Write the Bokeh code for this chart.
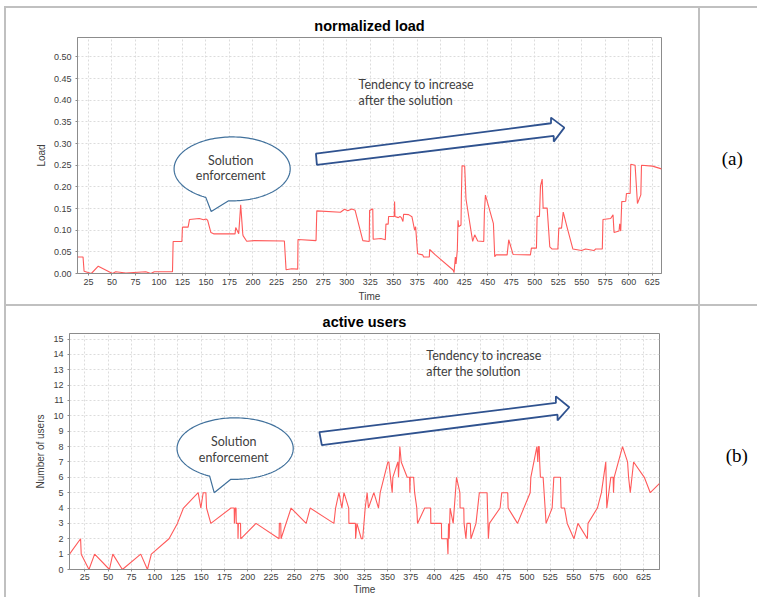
import numpy as np
from bokeh.plotting import figure
from bokeh.models import Range1d, FixedTicker, NumeralTickFormatter, Label, Spacer
from bokeh.layouts import column, row
from bokeh.embed import file_html
from bokeh.resources import INLINE

# ---------------- data ----------------
time_ticks = [25, 50, 75, 100, 125, 150, 175, 200, 225, 250, 275, 300, 325,
              350, 375, 400, 425, 450, 475, 500, 525, 550, 575, 600, 625]
load_ticks = [0.0, 0.05, 0.10, 0.15, 0.20, 0.25, 0.30, 0.35, 0.40, 0.45, 0.50]
user_ticks = [0, 1, 2, 3, 4, 5, 6, 7, 8, 9, 10, 11, 12, 13, 14, 15]

load_time = [13.3, 19.2, 20.3, 28, 35.4, 50.5, 54, 64.8, 86, 91.4, 95, 114.4, 115.1,
             124.4, 125, 131, 132.5, 142.9, 147.5, 150, 151.8, 155.3, 158.2, 181, 181.7,
             184.9, 187, 189.2, 189.5, 193.4, 201.5, 233.5, 235.3, 241.3, 247.7, 248,
             267.2, 268, 293.2, 297.5, 301, 305.3, 308.8, 317, 323.8, 324.2, 325.0,
             326.8, 327.6, 328.0, 336.3, 340.9, 341.6, 344, 344.4, 350.4, 350.8, 351.2,
             354.8, 356.5, 358, 359.7, 360.4, 365.7, 369.3, 372.1, 373.2, 375.3, 380.7,
             381.7, 387.8, 388.1, 394.2, 413, 414.1, 415.5, 416.2, 417.6, 418.3, 419,
             421.5, 421.9, 422.6, 425.4, 426.8, 433.9, 436.1, 439.3, 445.7, 446.4, 447.5,
             456, 457.4, 458.8, 470.6, 472.3, 476.9, 495.4, 496.4, 501.8, 502.5, 505,
             506.1, 507.9, 508.9, 513.2, 516, 518.5, 524.6, 525.6, 528.5, 530.3, 534.5,
             540.6, 549.8, 554.1, 563, 564.8, 571.9, 572.6, 580.8, 583.3, 584.4, 589.7,
             590.4, 591.5, 592.6, 596.8, 597.6, 601.5, 602.2, 606.8, 609.3, 612.9, 613.6,
             625.3, 634.9]
load_value = [0.038, 0.038, 0.005, 0.0, 0.017, 0.0, 0.004, 0.001, 0.004, 0.0, 0.004, 0.004, 0.074,
              0.074, 0.107, 0.107, 0.1246, 0.127, 0.124, 0.126, 0.123, 0.0946, 0.0916, 0.0916, 0.106,
              0.092, 0.1585, 0.092, 0.0875, 0.0746, 0.076, 0.075, 0.0085, 0.0108, 0.010, 0.0785,
              0.076, 0.1447, 0.1415, 0.1485, 0.1447, 0.149, 0.146, 0.076, 0.074, 0.146, 0.146,
              0.149, 0.149, 0.079, 0.081, 0.078, 0.114, 0.114, 0.1316, 0.1316, 0.166, 0.1316,
              0.129, 0.132, 0.129, 0.12, 0.137, 0.136, 0.131, 0.100, 0.108, 0.0455, 0.043,
              0.038, 0.038, 0.0554, 0.043, 0.008, 0.002, 0.038, 0.022, 0.055, 0.123, 0.108,
              0.112, 0.179, 0.249, 0.248, 0.172, 0.074, 0.0893, 0.075, 0.074, 0.142, 0.181,
              0.115, 0.039, 0.043, 0.043, 0.078, 0.044, 0.043, 0.0586, 0.0586, 0.132, 0.132,
              0.202, 0.218, 0.151, 0.151, 0.0616, 0.0565, 0.0565, 0.1047, 0.1047, 0.142, 0.106,
              0.0565, 0.053, 0.0565, 0.053, 0.0565, 0.0565, 0.1246, 0.127, 0.1354, 0.0946, 0.098,
              0.115, 0.098, 0.166, 0.167, 0.1846, 0.1846, 0.2524, 0.250, 0.1615, 0.1815, 0.25,
              0.248, 0.2416]

users_time = [8.5, 20.4, 21.1, 29.4, 35.5, 51.4, 55, 65.3, 85, 92.2, 96.4, 115.4, 124.4,
              130.9, 146.7, 149.6, 152.1, 155, 155.7, 160.3, 181.9, 185.4, 185.6, 186.4,
              187.4, 187.6, 189.3, 189.5, 189.9, 192.2, 192.4, 208.8, 233.6, 233.9, 235.4,
              235.7, 246.5, 262.7, 267, 292.5, 294.3, 297.9, 301.1, 303.3, 308.4, 308.6,
              315.6, 315.8, 317.2, 321.9, 323.4, 326.1, 328.2, 329.6, 335.4, 340.4, 342.2,
              350.5, 351.5, 355.1, 355.8, 361.2, 361.9, 363.3, 364.8, 371.2, 373.8, 374.1,
              374.5, 378.1, 379.2, 381.5, 382.3, 390, 396.4, 396.6, 408, 408.2, 414.2, 415,
              415.6, 416.3, 417.3, 420.6, 424.2, 427.8, 428, 432, 432.3, 434.3, 435.4, 439,
              439.7, 445.1, 448.7, 457, 458.4, 459.5, 471, 472.8, 479.2, 479.6, 489.7, 503.3,
              504, 510.5, 511.5, 512.2, 513, 513.5, 514.3, 517.2, 520.4, 526.9, 528.7, 535.9,
              536.6, 540.2, 543.1, 550.3, 554.6, 564.7, 565.4, 575.5, 579.8, 584.5, 585.6,
              589.9, 592.4, 592.8, 593.5, 602.5, 607.9, 609, 610.8, 614.4, 625.9, 632.3, 642.3]
users_count = [1, 2, 1, 0, 1, 0, 1, 0, 1, 0, 1, 2, 3,
               4, 5, 4, 5, 5, 4, 3, 4, 4, 3, 4,
               4, 3, 3, 2, 3, 3, 2, 3, 2, 3, 3,
               2, 4, 3, 4, 3, 4, 5, 4, 5, 4, 3,
               3, 2, 3, 2, 2, 4, 5, 4, 5, 4, 5,
               7, 7, 5, 6, 7, 6, 8, 7, 6, 6, 5,
               6, 6, 5, 4, 3, 4, 4, 3, 3, 2, 2, 1,
               3, 2, 4, 3, 6, 5, 4, 4, 3, 2, 3, 3,
               2, 3, 5, 5, 2, 3, 4, 5, 5, 4, 3, 5,
               6, 8, 7, 8, 8, 7, 6, 6, 3, 4, 6, 6,
               4, 4, 3, 2, 3, 2, 3, 4, 5, 7, 4,
               6, 6, 5, 6, 8, 7, 6, 5, 7, 6, 5, 5.6]

# ---------------- styles ----------------
LINE = "#ff5a5a"
FRAME = "#8c8c8c"
GRID = "#dcdcdc"
TXT = "#404040"
ARROW = "#2f528f"
BUBBLE = "#41719c"
CELL = "#c0c0c0"
NOTE_FONT = "Lato"
AX_FONT = "Liberation Sans"


def make_fig(title, xr, yr, width, height, bl, br, bt, bb, title_offset, xstand, xlab_stand):
    p = figure(width=width, height=height, x_range=Range1d(*xr), y_range=Range1d(*yr),
               output_backend="svg", toolbar_location=None, tools="",
               min_border_left=bl, min_border_right=br, min_border_top=bt,
               min_border_bottom=bb)
    p.title.text = title
    p.title.align = "center"
    p.title.offset = title_offset
    p.title.standoff = 7
    p.title.text_font = AX_FONT
    p.title.text_font_size = "14.5px"
    p.title.text_font_style = "bold"
    p.title.text_color = "black"
    p.background_fill_color = "white"
    p.border_fill_color = "white"
    p.outline_line_color = FRAME
    p.outline_line_width = 1
    for ax in (p.xaxis[0], p.yaxis[0]):
        ax.axis_line_color = FRAME
        ax.major_tick_line_color = FRAME
        ax.major_tick_in = 0
        ax.major_tick_out = 2
        ax.minor_tick_line_color = None
        ax.major_label_text_font = AX_FONT
        ax.major_label_text_font_size = "9px"
        ax.major_label_text_color = TXT
        ax.axis_label_text_font = AX_FONT
        ax.axis_label_text_font_size = "10px"
        ax.axis_label_text_font_style = "normal"
        ax.axis_label_text_color = TXT
    p.xaxis.ticker = FixedTicker(ticks=time_ticks)
    p.xaxis.major_label_standoff = xstand
    p.xaxis.axis_label_standoff = xlab_stand
    p.xaxis.axis_label = "Time"
    p.yaxis.major_label_standoff = 4
    p.yaxis.axis_label_standoff = 4
    for g in (p.xgrid[0], p.ygrid[0]):
        g.grid_line_color = GRID
        g.grid_line_dash = "2 2"
        g.grid_line_width = 1
    p.xgrid.ticker = FixedTicker(ticks=time_ticks)
    return p


def bubble(p, cx, cy, a, b, t_left, t_right, tip, lines, ty):
    th = np.radians(np.linspace(t_right, t_left + 360, 160))
    xs = list(cx + a * np.cos(th)) + [tip[0]]
    ys = list(cy + b * np.sin(th)) + [tip[1]]
    p.patch(xs, ys, fill_color="white", line_color=BUBBLE, line_width=1.2)
    for txt, yy in zip(lines, ty):
        p.add_layout(Label(x=cx - 1.5, y=yy, text=txt, text_align="center",
                           text_baseline="middle", text_font=NOTE_FONT,
                           text_font_size="12.5px", text_color=TXT))


def arrow(p, pts, tx, ty, lines):
    xs = [q[0] for q in pts]
    ys = [q[1] for q in pts]
    p.patch(xs, ys, fill_color="white", line_color=ARROW, line_width=1.8)
    for txt, yy in zip(lines, ty):
        p.add_layout(Label(x=tx, y=yy, text=txt, text_align="left",
                           text_baseline="middle", text_font=NOTE_FONT,
                           text_font_size="12.5px", text_color=TXT))


def tag_panel(text, width, height, cx, cy):
    q = figure(width=width, height=height, x_range=Range1d(0, width),
               y_range=Range1d(height, 0), x_axis_type=None, y_axis_type=None,
               output_backend="svg", toolbar_location=None, tools="",
               min_border=0, outline_line_color=None)
    q.background_fill_color = "white"
    q.border_fill_color = "white"
    q.add_layout(Label(x=cx, y=cy, text=text, text_align="center",
                       text_baseline="middle", text_font="Liberation Serif",
                       text_font_size="19px", text_color="black"))
    return q


def strip(w, h, grey=True):
    if grey:
        return Spacer(width=w, height=h, styles={"background-color": CELL})
    return Spacer(width=w, height=h)


# ---------------- chart (a) ----------------
H1 = 296
p1 = make_fig("normalized load", (13.3, 634.9), (0, 0.545), 692, H1, 71, 37, 29, 31, 1.5, 3, 3)
p1.yaxis.ticker = FixedTicker(ticks=load_ticks)
p1.ygrid.ticker = FixedTicker(ticks=load_ticks)
p1.yaxis.formatter = NumeralTickFormatter(format="0.00")
p1.yaxis.axis_label = "Load"
p1.line(load_time, load_value, line_color=LINE, line_width=1.1)
bubble(p1, 177.9, 0.2416, 61.8, 0.0738, 243, 266.5, (155.6, 0.143),
       ["Solution", "enforcement"], [0.2617, 0.2254])
arrow(p1, [(268.1, 0.2508), (520.2, 0.3177), (520.2, 0.3046), (531.5, 0.3369),
           (517.3, 0.360), (517.3, 0.347), (267.1, 0.2769)],
      312.5, [0.4354, 0.3985], ["Tendency to increase", "after the solution"])
pa = tag_panel("(a)", 57, H1, 31.7, 152)

# ---------------- chart (b) ----------------
H2 = 291
p2 = make_fig("active users", (8.5, 642.2), (0, 15.36), 692, H2, 63, 39, 27, 27, 6, 2, 1)
p2.yaxis.ticker = FixedTicker(ticks=user_ticks)
p2.ygrid.ticker = FixedTicker(ticks=user_ticks)
p2.yaxis.axis_label = "Number of users"
p2.line(users_time, users_count, line_color=LINE, line_width=1.1)
bubble(p2, 186.4, 7.87, 62.4, 2.0, 244, 265.8, (163.9, 5.0),
       ["Solution", "enforcement"], [8.34, 7.32])
arrow(p2, [(279.5, 8.10), (532.7, 10.08), (532.7, 9.70), (545.3, 10.56),
           (530.9, 11.27), (530.9, 10.84), (276.9, 8.94)],
      391.7, [13.92, 12.89], ["Tendency to increase", "after the solution"])
pb = tag_panel("(b)", 57, H2, 36.3, 150)

layout = column(
    strip(757, 6, grey=False),
    row(strip(4, 2, grey=False), strip(753, 2)),
    row(strip(4, H1, grey=False), strip(2, H1), p1, strip(2, H1), pa),
    row(strip(4, 2, grey=False), strip(753, 2)),
    row(strip(4, H2, grey=False), strip(2, H2), p2, strip(2, H2), pb),
)
open("out.html", "w").write(file_html(layout, INLINE))
